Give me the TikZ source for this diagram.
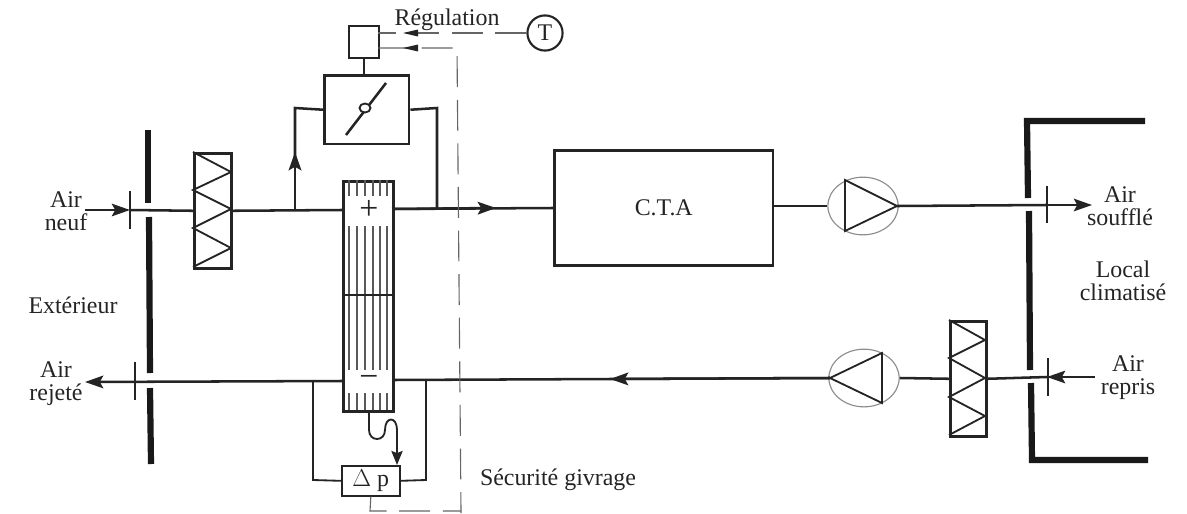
\documentclass[tikz,border=0pt]{standalone}
\usepackage{fontspec}
\setmainfont{Liberation Serif}
\usetikzlibrary{arrows.meta, shapes.geometric}

\definecolor{ink}{gray}{0.14}
\definecolor{finc}{gray}{0.35}
\tikzset{
    duct/.style={draw=ink, line width=1.8pt},
    wire/.style={draw=ink, line width=1.3pt},
    wall/.style={draw=black!90, line width=4.4pt},
    ctrl/.style={draw=ink!70, line width=0.8pt, dash pattern=on 22pt off 9pt},
    tick/.style={draw=ink, line width=1.7pt},
    tip/.style={-{Stealth[length=13pt,width=9pt,inset=2.5pt]}},
    box/.style={draw=ink, line width=1.8pt, rectangle, inner sep=0pt, anchor=north west},
    fan/.style={draw=black!45, line width=0.8pt, ellipse, minimum width=50pt, minimum height=41pt, inner sep=0pt},
    lbl/.style={align=center, text=ink, font=\fontsize{17}{16.4}\selectfont, inner sep=0pt},
}

\begin{document}
\begin{tikzpicture}[x=0.025cm, y=-0.025cm]
    \useasboundingbox (0,0) rectangle (1187,513);

    % Walls
    \draw[wall] (148,130) -- (148,203);
    \draw[wall] (149,217) -- (150,373);
    \draw[wall] (150,388) -- (151,464);
    \draw[wall] (1145,121) -- (1027,121) -- (1028,198);
    \draw[wall] (1029,211) -- (1030,370);
    \draw[wall] (1031,383) -- (1032,460) -- (1148,460);

    % Components
    \node[box, minimum width=26.3pt, minimum height=81.8pt] (filterin) at (193,152) {};
    \node[box, minimum width=25.6pt, minimum height=81.8pt] (filterout) at (949,320) {};
    \node[box, line width=2.2pt, minimum width=35.5pt, minimum height=163.5pt] (exch) at (342,180) {};
    \node[box, minimum width=60.4pt, minimum height=49pt] (damper) at (323,74) {};
    \node[box, line width=1.2pt, minimum width=21.3pt, minimum height=22.7pt] (actuator) at (348,25) {};
    \node[box, minimum width=155.7pt, minimum height=81.8pt, lbl] (cta) at (553,149) {C.T.A};
    \node[fan] (fansupply) at (863,206) {};
    \node[fan] (fanreturn) at (864,378) {};
    \node[box, line width=1.2pt, minimum width=41.2pt, minimum height=21.3pt, lbl] (dp) at (341,465) {$\Delta$ p};
    \node[draw=ink, line width=1.5pt, circle, minimum size=25pt, inner sep=0pt, lbl] (sensor) at (545,33) {T};

    % Filter zigzags
    \draw[wire] (193,152) -- (231,172) -- (193,190) -- (231,209) -- (193,228) -- (231,248) -- (193,267);
    \draw[wire] (949,320) -- (985,340) -- (949,358) -- (985,378) -- (949,397) -- (985,416) -- (949,435);

    % Fan triangles
    \draw[wire] (845,180) -- (845,231) -- (897,206) -- cycle;
    \draw[wire] (882,353) -- (882,403) -- (830,378) -- cycle;

    % Damper blade
    \draw[duct] (346,135) -- (386,83);
    \draw[wire, fill=white] (365,108) ellipse (5.5 and 4.5);

    % Exchanger fins
    \foreach \x in {349,357,365,373,380,387} {
        \draw[finc, line width=0.75pt] (\x,180) -- (\x,196);
        \draw[finc, line width=0.75pt] (\x,226) -- (\x,370);
        \draw[finc, line width=0.75pt] (\x,393) -- (\x,410);
    }
    \draw[wire] (342,295) -- (392,295);
    \node[lbl, fill=white, inner sep=1pt, font=\fontsize{24}{24}\selectfont] (plus) at (369,210) {+};
    \node[lbl, fill=white, inner sep=1pt, font=\fontsize{24}{24}\selectfont] (minus) at (369,381) {\textminus};

    % Junction points
    \coordinate (neufin) at (85,210);
    \coordinate (tickin) at (130,210);
    \coordinate (exchinw) at (342,210);
    \coordinate (exchine) at (392,209);
    \coordinate (split) at (295,210);
    \coordinate (merge) at (437,209);
    \coordinate (arrowin) at (496,208);
    \coordinate (ctain) at (553,208);
    \coordinate (souffle) at (1092,205);
    \coordinate (repris) at (1095,377);
    \coordinate (tickback) at (1047,377);
    \coordinate (arrowback) at (610,379);
    \coordinate (exchoute) at (392,380);
    \coordinate (exchoutw) at (342,381);
    \coordinate (rejete) at (85,382);
    \coordinate (tapl) at (313,381);
    \coordinate (tapr) at (426,380);

    % Supply duct
    \draw[wire, tip] (neufin) -- (tickin);
    \draw[duct] (tickin) -- (filterin.west);
    \draw[duct] (filterin.east) -- (exchinw);
    \draw[duct] (exchine) -- (ctain);
    \draw[duct, tip] (exchine) -- (arrowin);
    \draw[duct] (cta.east |- 0,206) -- (fansupply.west);
    \draw[duct] (897,206) -- (1047,205);
    \draw[wire, tip] (1047,205) -- (souffle);

    % Bypass
    \draw[duct, tip] (split) -- (295,152);
    \draw[duct] (295,158) -- (295,108) -- (damper.west);
    \draw[duct] (damper.east) -- (437,108) -- (merge);

    % Return duct
    \draw[wire, tip] (repris) -- (tickback);
    \draw[duct] (tickback) -- (filterout.east);
    \draw[duct] (filterout.west) -- (fanreturn.east);
    \draw[duct] (830,378) -- (exchoute);
    \draw[duct, tip] (830,378) -- (arrowback);
    \draw[duct, tip] (exchoutw) -- (rejete);

    % Ticks
    \draw[tick] (130,191) -- (130,229);
    \draw[tick] (1047,186) -- (1047,223);
    \draw[tick] (135,362) -- (135,400);
    \draw[tick] (1048,358) -- (1048,396);

    % Pressure tappings
    \draw[wire] (tapl) -- (313,480) -- (dp.west);
    \draw[wire] (tapr) -- (426,480) -- (dp.east);
    \draw[wire, -{Stealth[length=10pt,width=8pt,inset=1.5pt]}] (369,410) -- (369,430)
        .. controls (369,442) and (385,442) .. (385,430)
        .. controls (385,416) and (397,416) .. (397,430) -- (397,465);

    % Regulation
    \draw[wire] (actuator.south) -- (actuator.south |- damper.north);
    \draw[ctrl] (sensor.west) -- (378,33);
    \draw[ctrl] (378,48) -- (457,48) -- (461,513);
    \draw[ctrl] (dp.south) -- (370,511) -- (461,511);
    \fill[ink] (403,33) -- (418,29.5) -- (418,36.5) -- cycle;
    \fill[ink] (403,48) -- (418,44.5) -- (418,51.5) -- cycle;

    % Labels
    \node[lbl] (regul) at (447,20) {Régulation};
    \node[lbl] (neuf) at (66,211) {Air\\neuf};
    \node[lbl] (ext) at (73,305) {Extérieur};
    \node[lbl] (rej) at (56,384) {Air\\rejeté};
    \node[lbl] (souf) at (1120,206) {Air\\soufflé};
    \node[lbl] (local) at (1123,281) {Local\\climatisé};
    \node[lbl] (repr) at (1128,378) {Air\\repris};
    \node[lbl] (secu) at (558,480) {Sécurité givrage};

\end{tikzpicture}
\end{document}
